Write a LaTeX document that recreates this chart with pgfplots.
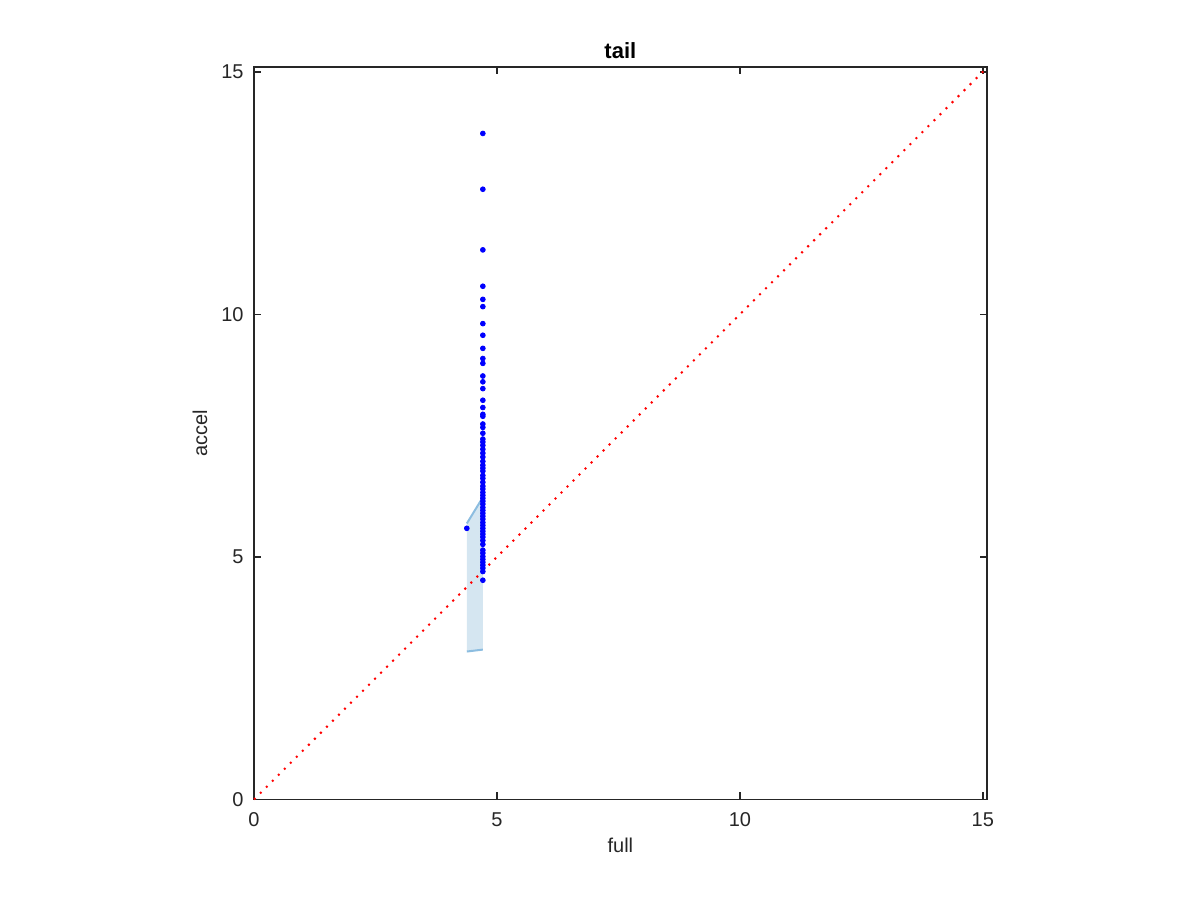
\documentclass[border=0pt]{standalone}
\usepackage{pgfplots}
\pgfplotsset{compat=1.18}
\usepackage{fontspec}
\setmainfont{Liberation Sans}
\definecolor{axgray}{HTML}{262626}
\definecolor{bandfill}{HTML}{D5E6F1}
\definecolor{bandedge}{HTML}{8CBDE0}
\begin{document}
\fontsize{10}{12}\selectfont
\begin{tikzpicture}
\path[use as bounding box] (0,0) rectangle (600pt,450pt);
\begin{axis}[
  at={(127pt,50.25pt)}, anchor=south west,
  scale only axis, width=366.35pt, height=366.25pt,
  xmin=0, xmax=15.08, ymin=0, ymax=15.1,
  xtick={0,5,10,15}, ytick={0,5,10,15},
  tick align=inside, major tick length=3.5pt,
  axis line style={axgray, line width=0.8pt},
  tick style={axgray, line width=0.8pt},
  /pgf/number format/assume math mode=true,
  tick label style={font=\fontsize{10}{12}\selectfont, text=axgray},
  xticklabel style={yshift=-3.2pt},
  yticklabel style={xshift=-1.7pt},
  xlabel={full}, ylabel={accel},
  label style={font=\fontsize{10}{12}\selectfont, text=axgray},
  xlabel style={at={(axis description cs:0.5,-0.063)}, anchor=center},
  ylabel style={at={(axis description cs:-0.0737,0.5)}, anchor=center, rotate=0},
  title={tail},
  title style={font=\bfseries\fontsize{11}{13}\selectfont, at={(axis description cs:0.5,1.024)}, anchor=center, yshift=-6.5pt},
  clip=false,
]
\addplot[fill=bandfill, draw=none] coordinates {(4.38,3.05) (4.71,3.09) (4.71,6.23) (4.38,5.69)} -- cycle;
\addplot[bandedge, line width=1pt] coordinates {(4.38,5.69) (4.71,6.23)};
\addplot[bandedge, line width=1pt] coordinates {(4.38,3.05) (4.71,3.09)};
\addplot[red, line width=1pt, dash pattern=on 1pt off 3.25pt] coordinates {(0,0) (15.08,15.08)};
\addplot[only marks, mark=*, mark size=1.2pt, color=blue, mark options={fill=blue, draw=blue}] table {
x y
4.38 5.59
4.71 13.73
4.71 12.58
4.71 11.33
4.71 10.58
4.71 10.31
4.71 10.16
4.71 9.81
4.71 9.57
4.71 9.30
4.71 9.09
4.71 8.99
4.71 8.73
4.71 8.61
4.71 8.47
4.71 8.23
4.71 8.08
4.71 7.94
4.71 7.90
4.71 7.74
4.71 7.67
4.71 7.55
4.71 7.43
4.71 7.37
4.71 7.30
4.71 7.22
4.71 7.14
4.71 7.06
4.71 6.97
4.71 6.89
4.71 6.83
4.71 6.77
4.71 6.68
4.71 6.62
4.71 6.54
4.71 6.46
4.71 6.40
4.71 6.33
4.71 6.27
4.71 6.21
4.71 6.15
4.71 6.09
4.71 6.02
4.71 5.96
4.71 5.90
4.71 5.84
4.71 5.78
4.71 5.71
4.71 5.65
4.71 5.59
4.71 5.53
4.71 5.47
4.71 5.41
4.71 5.34
4.71 5.26
4.71 5.14
4.71 5.08
4.71 5.01
4.71 4.95
4.71 4.89
4.71 4.83
4.71 4.77
4.71 4.70
4.71 4.52
};
\end{axis}
\end{tikzpicture}
\end{document}
